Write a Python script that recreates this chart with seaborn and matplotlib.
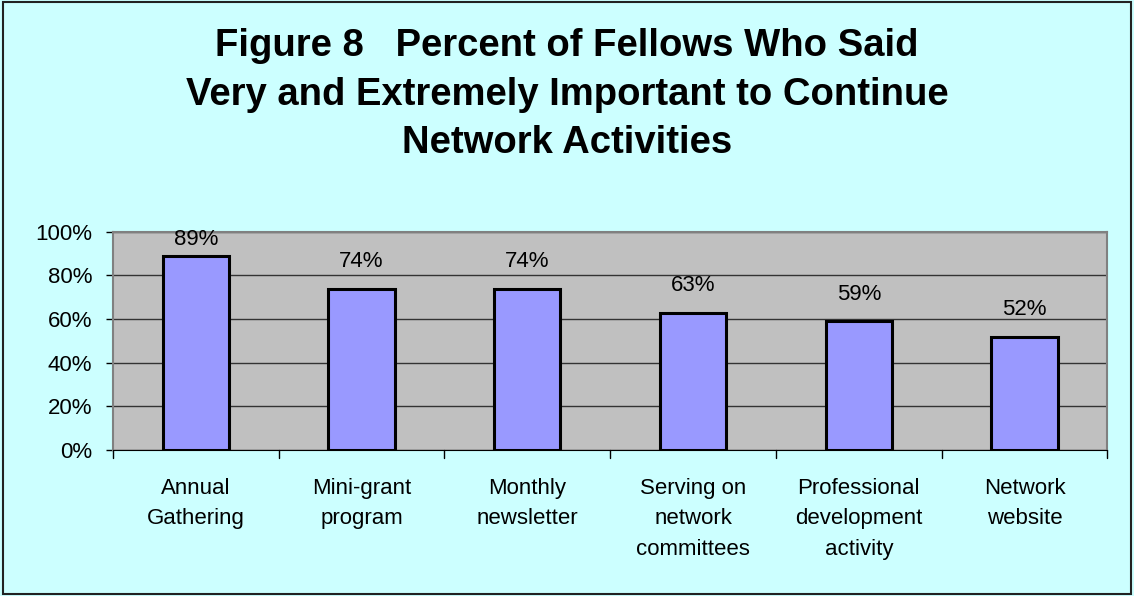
import matplotlib
matplotlib.use("Agg")
import matplotlib.pyplot as plt
import seaborn as sns
import pandas as pd
from matplotlib.patches import Rectangle

categories = ["Annual\nGathering", "Mini-grant\nprogram", "Monthly\nnewsletter",
              "Serving on\nnetwork\ncommittees", "Professional\ndevelopment\nactivity",
              "Network\nwebsite"]
values = [89, 74, 74, 63, 59, 52]
yticks = [0, 20, 40, 60, 80, 100]
ytick_labels = ["0%", "20%", "40%", "60%", "80%", "100%"]
title = "Figure 8   Percent of Fellows Who Said\nVery and Extremely Important to Continue\nNetwork Activities"

sns.set_style("white")
plt.rcParams['font.family'] = ['Liberation Sans', 'DejaVu Sans']
plt.rcParams['text.color'] = 'black'
plt.rcParams['xtick.color'] = 'black'
plt.rcParams['ytick.color'] = 'black'

df = pd.DataFrame({"cat": categories, "val": values})

fig = plt.figure(figsize=(11.34, 5.96), dpi=100, facecolor="#CCFFFF")
fig.patches.append(Rectangle((0.003, 0.003), 0.994, 0.994, transform=fig.transFigure,
                             fill=False, edgecolor="#222222", linewidth=1.5))
ax = fig.add_axes([0.0996, 0.245, 0.877, 0.366])
ax.set_facecolor("#C0C0C0")

sns.barplot(data=df, x="cat", y="val", ax=ax, color="#9999FF", width=0.4,
            edgecolor="black", linewidth=2.2, saturation=1, zorder=3)

ax.set_ylim(0, 100)
ax.set_yticks(yticks)
ax.set_yticklabels(ytick_labels, fontsize=16)
ax.set_xlim(-0.5, len(categories) - 0.5)
ax.set_xticks(range(len(categories)))
ax.set_xticklabels(categories, fontsize=16, linespacing=1.6)
ax.set_xlabel("")
ax.set_ylabel("")
ax.yaxis.grid(True, color="#333333", linewidth=1.0, zorder=0)
ax.set_axisbelow(True)

for s in ["top", "right", "left"]:
    ax.spines[s].set_color("#808080")
    ax.spines[s].set_linewidth(1.5)
ax.spines["bottom"].set_color("black")

ax.tick_params(axis="x", length=0, pad=20)
ax.tick_params(axis="y", length=5, width=1, color="black", direction="out", left=True, pad=10)
for b in [i - 0.5 for i in range(len(categories) + 1)]:
    ax.plot([b, b], [0, -3.5], color="black", linewidth=1, clip_on=False)

for i, v in enumerate(values):
    ax.text(i, min(v + 12.4, 96.3), f"{v}%", ha="center", va="center", fontsize=16)

fig.text(0.5, 1 - 153 / 596, title, ha="center", va="baseline", fontsize=27.5,
         fontweight="bold", linespacing=1.44)

fig.savefig("out.png", dpi=100, facecolor=fig.get_facecolor())
